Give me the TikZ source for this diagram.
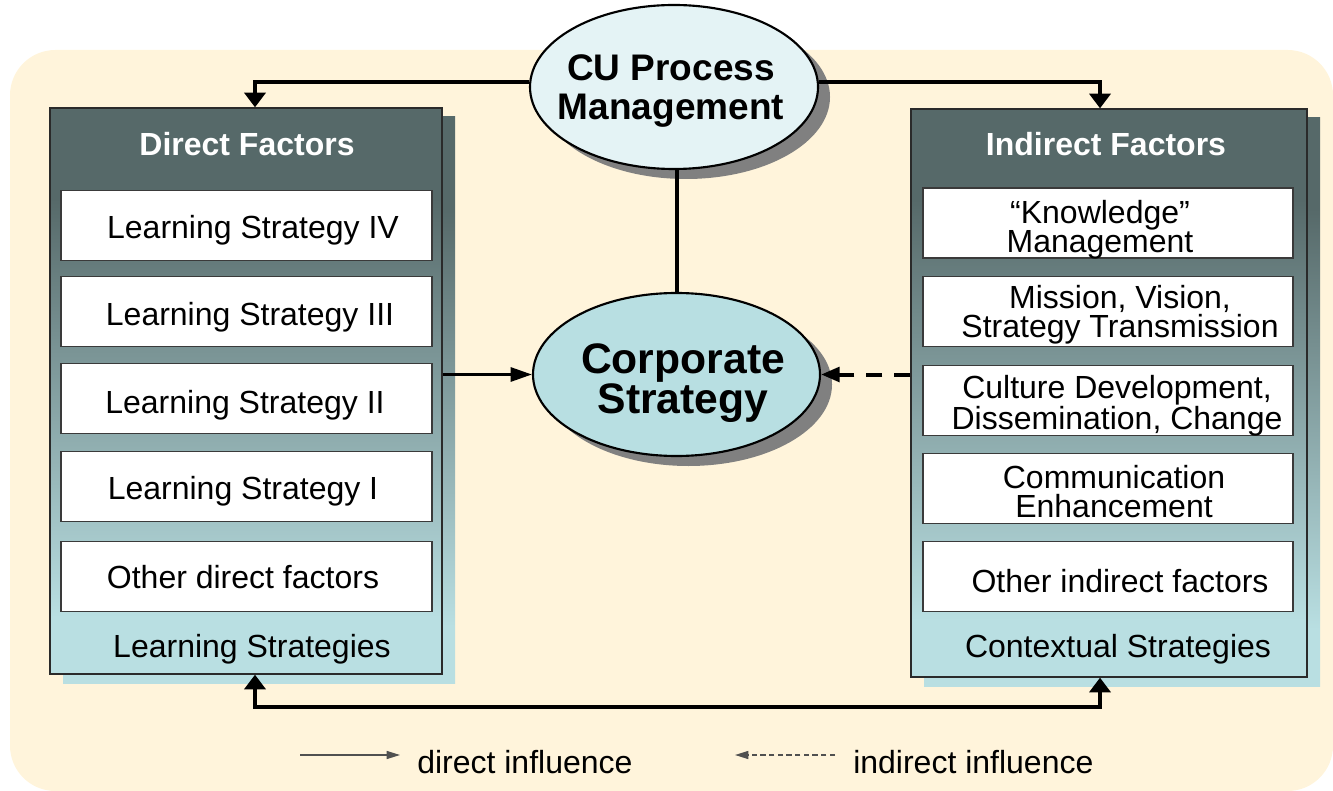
\documentclass[tikz,border=0pt]{standalone}
\usepackage{fontspec}
\setmainfont{Liberation Sans}
\usetikzlibrary{arrows.meta,shapes.geometric,shadows}

\definecolor{cream}{HTML}{FFF4DB}
\definecolor{pandark}{HTML}{566969}
\definecolor{panlight}{HTML}{B9DFE2}
\definecolor{panborder}{HTML}{2A2A2A}
\definecolor{boxborder}{HTML}{3A3A3A}
\definecolor{cufill}{HTML}{E4F3F5}
\definecolor{csfill}{HTML}{B8DFE2}
\definecolor{shadowgray}{HTML}{808080}
\definecolor{legendgray}{HTML}{505050}

% panel gradient: dark header fading to light teal at the bottom
\pgfdeclareverticalshading{panelshade}{100bp}{%
  color(0bp)=(panlight); color(30bp)=(panlight);
  color(67bp)=(pandark); color(100bp)=(pandark)}

\begin{document}
\begin{tikzpicture}[x=0.75pt,y=-0.75pt,
  bodyfont/.style={font=\fontsize{24}{21.75}\selectfont},
  panel/.style={draw=panborder, line width=1pt, shade, shading=panelshade,
    inner sep=0pt},
  panelshadow/.style={shade, shading=panelshade},
  itembox/.style={draw=boxborder, line width=0.8pt, fill=white,
    minimum height=52.5pt, inner sep=0pt},
  lbox/.style={itembox, minimum width=278.25pt},
  rbox/.style={itembox, minimum width=277.5pt},
  linetext/.style={anchor=base, inner sep=0pt, bodyfont},
  pairtext/.style={inner sep=0pt, align=center, bodyfont},
  headtext/.style={anchor=base, inner sep=0pt, text=white,
    font=\bfseries\fontsize{24}{24}\selectfont},
  bubble/.style={ellipse, draw=black, line width=1.6pt, inner sep=0pt,
    drop shadow={shadow xshift=9pt, shadow yshift=-7.5pt,
      fill=shadowgray, opacity=1}},
  link/.style={line width=3pt},
  bigtip/.style={-{Triangle[width=15.75pt,length=11pt]}},
  legendline/.style={line width=1pt, draw=legendgray}
]
\useasboundingbox (0,0) rectangle (1333,791);

% background
\fill[cream, rounded corners=34pt] (10,50) rectangle (1333,791);

% panel shadows
\path[panelshadow] (63,117) rectangle (455,683);
\path[panelshadow] (924,118) rectangle (1320,686);

% panels
\node[panel, minimum width=294pt, minimum height=424.5pt] (lp) at (246,391) {};
\node[panel, minimum width=297pt, minimum height=426pt] (rp) at (1109,393) {};

% panel titles and captions
\node[headtext] (lhead) at (247,156) {Direct Factors};
\node[headtext] (rhead) at (1106,156) {Indirect Factors};
\node[linetext] (lfoot) at (252,657) {Learning Strategies};
\node[linetext] (rfoot) at (1118,657) {Contextual Strategies};

% direct factors
\node[lbox] (l4) at (246.5,225.5) {};
\node[lbox] (l3) at (246.5,311.5) {};
\node[lbox] (l2) at (246.5,398.5) {};
\node[lbox] (l1) at (246.5,486.5) {};
\node[lbox] (l0) at (246.5,576.5) {};
\node[linetext] (l4t) at (253,238.5) {Learning Strategy IV};
\node[linetext] (l3t) at (250,325.5) {Learning Strategy III};
\node[linetext] (l2t) at (245,413.5) {Learning Strategy II};
\node[linetext] (l1t) at (243,499.5) {Learning Strategy I};
\node[linetext] (l0t) at (243,588.5) {Other direct factors};

% indirect factors
\node[rbox] (r1) at (1108,223) {};
\node[rbox] (r2) at (1108,311.5) {};
\node[rbox] (r3) at (1108,400.5) {};
\node[rbox] (r4) at (1108,488.5) {};
\node[rbox] (r5) at (1108,576.5) {};
\node[pairtext] (r1t) at (1100,229.5) {“Knowledge”\\Management};
\node[pairtext] (r2t) at (1120,315) {Mission, Vision,\\Strategy Transmission};
\node[pairtext] (r3t) at (1117,406) {Culture Development,\\Dissemination, Change};
\node[pairtext] (r4t) at (1114,492) {Communication\\Enhancement};
\node[linetext] (r5t) at (1120,592.5) {Other indirect factors};

% central ellipses
\node[bubble, fill=cufill, minimum width=216pt, minimum height=123pt]
  (cu) at (674,87) {};
\node[inner sep=0pt, align=center,
  font=\bfseries\fontsize{27.75}{29.25}\selectfont] (cut) at (671,91.5)
  {CU Process\\Management};
\node[bubble, fill=csfill, minimum width=215.25pt, minimum height=122.25pt]
  (cs) at (676.5,374.5) {};
\node[inner sep=0pt, align=center,
  font=\bfseries\fontsize{32}{30}\selectfont] (cst) at (683,383.5)
  {Corporate\\Strategy};

% connectors
\draw[link] (cs.north |- cu.south) -- (cs.north);
\draw[link, bigtip] (cu.178) -| ([xshift=6.75pt]lp.north);
\draw[link, bigtip] (cu.2) -| ([xshift=-6.75pt]rp.north);
\coordinate (bline) at (677,707);
\draw[link, {Triangle[width=15.75pt,length=11pt]}-{Triangle[width=15.75pt,length=11pt]}]
  ([xshift=6.75pt]lp.south) |- (bline) -| ([xshift=-6.75pt]rp.south);
\draw[line width=2.25pt, -{Triangle[width=10.5pt,length=16pt]}]
  (lp.east |- cs.west) -- (cs.west);
\draw[line width=3pt, dash pattern=on 12pt off 9pt,
  -{Triangle[width=11pt,length=14pt]}]
  (rp.west |- cs.east) -- (cs.east);

% legend
\coordinate (ds) at (300,755);
\coordinate (de) at (400,755);
\draw[legendline, -{Triangle[width=6pt,length=10pt]}] (ds) -- (de);
\node[anchor=base west, inner sep=0pt, bodyfont] (dl) at (417,773) {direct influence};
\coordinate (is) at (835,755);
\coordinate (ie) at (735,755);
\draw[legendline, dash pattern=on 4pt off 2.5pt,
  -{Triangle[width=6pt,length=10pt]}] (is) -- (ie);
\node[anchor=base west, inner sep=0pt, bodyfont] (il) at (853,773) {indirect influence};
\end{tikzpicture}
\end{document}
